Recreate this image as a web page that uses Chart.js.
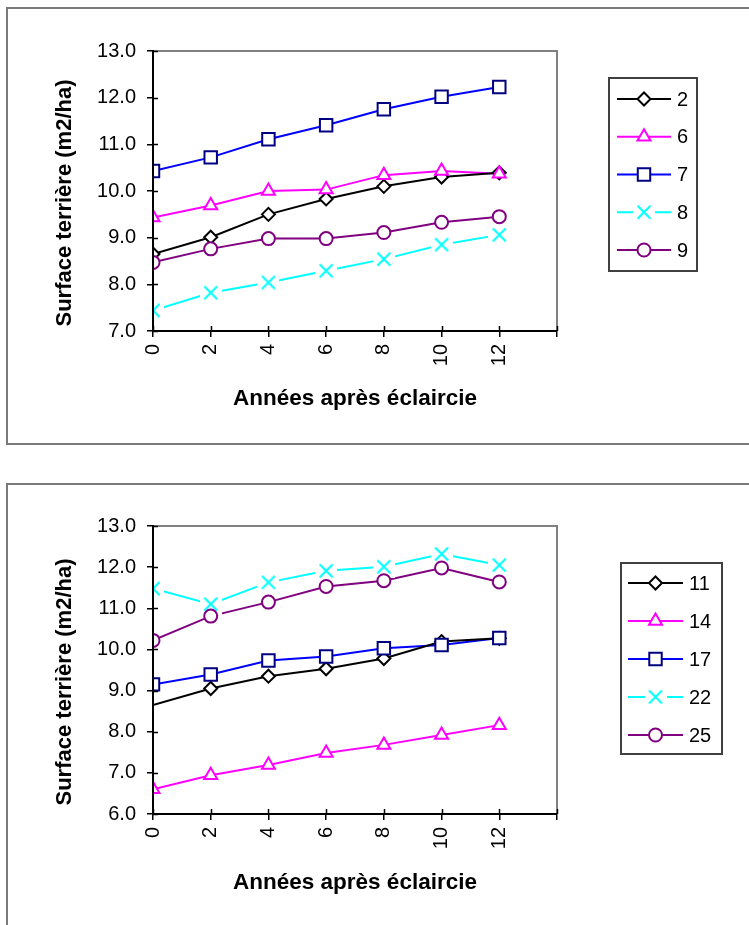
<!DOCTYPE html>
<html>
<head>
<meta charset="utf-8">
<script src="https://cdn.jsdelivr.net/npm/chart.js@4.4.1/dist/chart.umd.min.js"></script>
<style>
  html, body { margin: 0; padding: 0; background: #fff; }
  body { width: 749px; height: 925px; overflow: hidden; position: relative; }
  .box { position: absolute; border: 2px solid #7a7a7a; box-sizing: border-box; }
  canvas { position: absolute; left: 0; }
</style>
</head>
<body>
<div class="box" style="left:6px;top:7px;width:800px;height:438px"></div>
<div class="box" style="left:6px;top:483px;width:800px;height:500px"></div>
<canvas id="c1" width="749" height="470" style="top:0px"></canvas>
<canvas id="c2" width="749" height="455" style="top:470px"></canvas>
<script>
// ---------- DATA ----------
const years = [0, 2, 4, 6, 8, 10, 12];
const xAxisTicks = [0, 2, 4, 6, 8, 10, 12, 14];
const xTickLabels = ['0', '2', '4', '6', '8', '10', '12', ''];

const topNames = ['2', '6', '7', '8', '9'];
const s2 = [8.65, 9.01, 9.50, 9.83, 10.10, 10.30, 10.39];
const s6 = [9.43, 9.69, 10.00, 10.03, 10.34, 10.43, 10.37];
const s7 = [10.43, 10.72, 11.11, 11.41, 11.75, 12.02, 12.23];
const s8 = [7.44, 7.82, 8.04, 8.29, 8.54, 8.85, 9.06];
const s9 = [8.47, 8.76, 8.98, 8.98, 9.11, 9.33, 9.45];
const topYTicks = ['7.0', '8.0', '9.0', '10.0', '11.0', '12.0', '13.0'];

const bottomNames = ['11', '14', '17', '22', '25'];
const s11 = [8.65, 9.05, 9.35, 9.53, 9.78, 10.19, 10.27];
const s14 = [6.60, 6.94, 7.19, 7.48, 7.68, 7.92, 8.16];
const s17 = [9.15, 9.39, 9.73, 9.83, 10.03, 10.11, 10.28];
const s22 = [11.48, 11.10, 11.63, 11.91, 12.01, 12.32, 12.05];
const s25 = [10.22, 10.81, 11.15, 11.53, 11.67, 11.98, 11.64];
const bottomYTicks = ['6.0', '7.0', '8.0', '9.0', '10.0', '11.0', '12.0', '13.0'];

const yTitle = 'Surface terrière (m2/ha)';
const xTitle = 'Années après éclaircie';

// ---------- STYLES ----------
const FONT = "'Liberation Sans', Arial, sans-serif";
function crossImage() {
  const c = document.createElement('canvas');
  c.width = 22; c.height = 22;
  const g = c.getContext('2d');
  g.fillStyle = '#fff'; g.fillRect(0, 0, 22, 22);
  g.strokeStyle = '#00FFFF'; g.lineWidth = 2;
  g.beginPath();
  g.moveTo(4.5, 4.5); g.lineTo(17.5, 17.5);
  g.moveTo(17.5, 4.5); g.lineTo(4.5, 17.5);
  g.stroke();
  return c;
}
const CROSS = crossImage();
const styles = [
  { line: '#000000', mark: '#000000', pointStyle: 'rectRot', radius: 6.5 },
  { line: '#FF00FF', mark: '#FF00FF', pointStyle: 'triangle', radius: 7.5 },
  { line: '#0000FF', mark: '#000080', pointStyle: 'rect', radius: 8.8 },
  { line: '#00FFFF', mark: '#00FFFF', pointStyle: CROSS, radius: 6 },
  { line: '#800080', mark: '#800080', pointStyle: 'circle', radius: 6.5 }
];

function buildDatasets(names, series, hideFirst) {
  const ds = [];
  series.forEach((vals, i) => {
    const pts = years.map((x, k) => ({ x: x, y: vals[k] }));
    const st = styles[i];
    ds.push({
      label: names[i] + ' line', data: pts, borderColor: st.line, borderWidth: 2,
      pointRadius: 0, pointHoverRadius: 0, fill: false, tension: 0, order: 100
    });
    ds.push({
      label: names[i], data: pts, showLine: false, pointStyle: st.pointStyle,
      pointRadius: (ctx) => (hideFirst && hideFirst[i] && ctx.dataIndex === 0) ? 0 : st.radius,
      pointHoverRadius: st.radius,
      pointBackgroundColor: '#ffffff', pointBorderColor: st.mark, pointBorderWidth: 2,
      order: 50 - i, legendStyle: st, legendName: names[i]
    });
  });
  return ds;
}

// plot frame: gray top/right, crossing ticks, y title
const framePlugin = {
  id: 'frame',
  beforeDatasetsDraw(chart) {
    const { ctx, chartArea: a } = chart;
    ctx.save();
    ctx.strokeStyle = '#808080'; ctx.lineWidth = 2;
    ctx.beginPath();
    ctx.moveTo(a.left, a.top); ctx.lineTo(a.right, a.top); ctx.lineTo(a.right, a.bottom);
    ctx.stroke();
    ctx.restore();
  },
  afterDraw(chart, args, o) {
    const { ctx, chartArea: a } = chart;
    const xs = chart.scales.x, ys = chart.scales.y;
    ctx.save();
    ctx.strokeStyle = '#000'; ctx.lineWidth = 1.5;
    ctx.beginPath();
    ys.ticks.forEach(t => { const y = Math.round(ys.getPixelForValue(t.value)) + 0.5; ctx.moveTo(a.left, y); ctx.lineTo(a.left + 5, y); });
    xs.ticks.forEach(t => { const x = Math.round(xs.getPixelForValue(t.value)) + 0.5; ctx.moveTo(x, a.bottom); ctx.lineTo(x, a.bottom - 5); });
    ctx.stroke();
    // y axis title
    ctx.translate(o.titleX, (a.top + a.bottom) / 2 + o.titleShift);
    ctx.rotate(-Math.PI / 2);
    ctx.fillStyle = '#000';
    ctx.font = 'bold 22px ' + FONT;
    ctx.textAlign = 'center'; ctx.textBaseline = 'middle';
    ctx.fillText(yTitle, 0, 0);
    ctx.restore();
  }
};

function drawMarker(ctx, st, x, y) {
  ctx.save();
  ctx.fillStyle = '#ffffff'; ctx.strokeStyle = st.mark; ctx.lineWidth = 2;
  if (Chart.helpers && Chart.helpers.drawPoint) {
    Chart.helpers.drawPoint(ctx, { pointStyle: st.pointStyle, radius: st.radius, borderWidth: 2, rotation: 0 }, x, y);
  }
  ctx.restore();
}

const legendPlugin = {
  id: 'sideLegend',
  afterDraw(chart, args, o) {
    const ctx = chart.ctx;
    ctx.save();
    ctx.strokeStyle = '#404040'; ctx.lineWidth = 2;
    ctx.strokeRect(o.x1, o.y1, o.x2 - o.x1, o.y2 - o.y1);
    const items = chart.data.datasets.filter(d => d.legendStyle);
    items.forEach((d, i) => {
      const y = o.firstY + i * o.step;
      const st = d.legendStyle;
      ctx.strokeStyle = st.line; ctx.lineWidth = 2;
      ctx.beginPath(); ctx.moveTo(o.lx1, y); ctx.lineTo(o.lx2, y); ctx.stroke();
      drawMarker(ctx, st, (o.lx1 + o.lx2) / 2, y);
      ctx.fillStyle = '#000';
      ctx.font = '20px ' + FONT;
      ctx.textAlign = 'left'; ctx.textBaseline = 'middle';
      ctx.fillText(d.legendName, o.tx, y + 1);
    });
    ctx.restore();
  }
};

function makeChart(id, names, series, yMin, yMax, yLabels, layout, legendOpts, hideFirst) {
  const H = document.getElementById(id).height;
  return new Chart(document.getElementById(id), {
    type: 'line',
    data: { datasets: buildDatasets(names, series, hideFirst) },
    plugins: [framePlugin, legendPlugin],
    options: {
      responsive: false, animation: false, devicePixelRatio: 1,
      layout: { padding: { left: layout.padL, top: layout.top, right: 749 - layout.right, bottom: layout.padB } },
      plugins: {
        legend: { display: false }, tooltip: { enabled: false }, sideLegend: legendOpts,
        frame: { titleX: 65, titleShift: 12 }
      },
      scales: {
        x: {
          type: 'linear', min: 0, max: 14,
          afterBuildTicks: (s) => { s.ticks = xAxisTicks.map(v => ({ value: v })); },
          afterFit: (s) => { s.height = H - layout.bottom - layout.padB; },
          ticks: {
            autoSkip: false, minRotation: 90, maxRotation: 90, padding: 7, color: '#000',
            font: { family: FONT, size: 20 }, z: 1,
            callback: (v) => xTickLabels[xAxisTicks.indexOf(v)]
          },
          grid: { drawOnChartArea: false, drawTicks: true, tickLength: 6, color: '#000', lineWidth: 1.5, z: 1 },
          border: { display: true, color: '#000', width: 2, z: 1 },
          title: { display: true, text: xTitle, color: '#000', font: { family: FONT, size: 22.5, weight: 'bold' }, padding: { top: 0, bottom: layout.xTitlePadB } }
        },
        y: {
          type: 'linear', min: yMin, max: yMax,
          afterBuildTicks: (s) => { s.ticks = yLabels.map(v => ({ value: parseFloat(v) })); },
          afterFit: (s) => { s.width = layout.left - layout.padL; },
          ticks: {
            padding: 11, color: '#000', font: { family: FONT, size: 20 }, z: 1,
            callback: (v) => yLabels[yLabels.map(parseFloat).indexOf(v)]
          },
          grid: { drawOnChartArea: false, drawTicks: true, tickLength: 6, color: '#000', lineWidth: 1.5, z: 1 },
          border: { display: true, color: '#000', width: 2, z: 1 },
          title: { display: false }
        }
      }
    }
  });
}

makeChart('c1', topNames, [s2, s6, s7, s8, s9], 7, 13, topYTicks,
  { left: 153, right: 557, top: 51, bottom: 331, padL: 40, padB: 40, xTitlePadB: 18 },
  { x1: 609, y1: 78, x2: 697, y2: 271, firstY: 99, step: 37.75, lx1: 617, lx2: 671, tx: 677 });

makeChart('c2', bottomNames, [s11, s14, s17, s22, s25], 6, 13, bottomYTicks,
  { left: 153, right: 557, top: 56, bottom: 344, padL: 40, padB: 11, xTitlePadB: 18 },
  { x1: 621, y1: 93, x2: 722, y2: 284, firstY: 113, step: 38, lx1: 628, lx2: 683, tx: 689 },
  [true, false, false, false, false]);
</script>
</body>
</html>
